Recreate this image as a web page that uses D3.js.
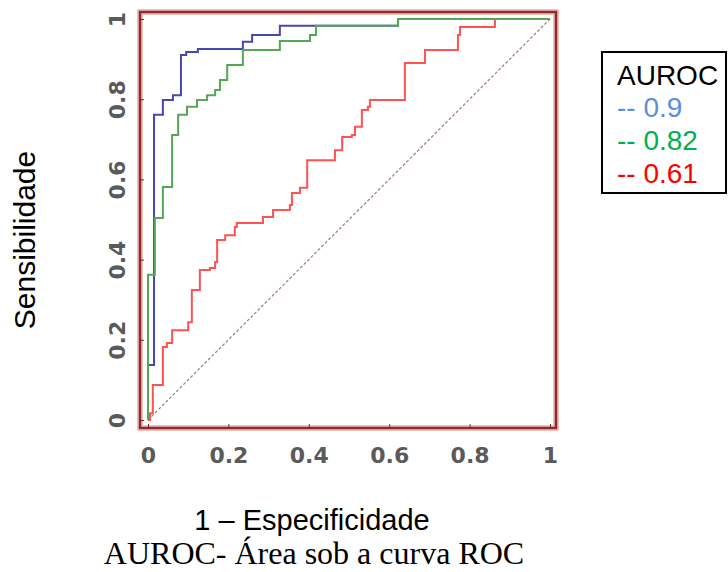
<!DOCTYPE html>
<html>
<head>
<meta charset="utf-8">
<script src="https://cdn.jsdelivr.net/npm/d3@7"></script>
<style>
  body { margin: 0; background: #fff; }
  svg { display: block; }
</style>
</head>
<body>
<div id="chart-area"></div>
<script>
const WIDTH = 728;
const HEIGHT = 572;

// ROC curves, points taken at each step (fpr, tpr)
const blueFpr = [0, 0, 0.015, 0.037, 0.062, 0.082, 0.095, 0.124, 0.236, 0.259, 0.328, 0.622, 1];
const blueTpr = [0, 0.137, 0.761, 0.798, 0.810, 0.910, 0.918, 0.925, 0.943, 0.960, 0.983, 1, 1];

const greenFpr = [0, 0, 0.017, 0.037, 0.060, 0.075, 0.097, 0.122, 0.147, 0.167, 0.179, 0.197, 0.236, 0.328, 0.403, 0.418, 0.622, 1];
const greenTpr = [0, 0.362, 0.504, 0.581, 0.711, 0.761, 0.781, 0.798, 0.810, 0.823, 0.848, 0.885, 0.923, 0.945, 0.960, 0.983, 1, 1];

const redFpr = [0, 0.005, 0.012, 0.037, 0.047, 0.060, 0.100, 0.109, 0.129, 0.154, 0.167, 0.172, 0.192, 0.216, 0.221, 0.286, 0.311, 0.353, 0.358, 0.378, 0.396, 0.465, 0.483, 0.507, 0.515, 0.532, 0.547, 0.552, 0.639, 0.689, 0.771, 0.776, 0.863, 1];
const redTpr = [0, 0.017, 0.087, 0.182, 0.192, 0.224, 0.244, 0.324, 0.374, 0.379, 0.394, 0.449, 0.461, 0.481, 0.491, 0.506, 0.524, 0.536, 0.566, 0.579, 0.648, 0.673, 0.706, 0.711, 0.731, 0.773, 0.781, 0.798, 0.890, 0.923, 0.960, 0.980, 1, 1];

const xTicks = [0, 0.2, 0.4, 0.6, 0.8, 1];
const yTicks = [0, 0.2, 0.4, 0.6, 0.8, 1];
const tickLabels = ['0', '0.2', '0.4', '0.6', '0.8', '1'];

const legendTitle = 'AUROC';
const legendLabels = ['-- 0.9', '-- 0.82', '-- 0.61'];
const legendColors = ['#5b8fd8', '#00b050', '#ff0000'];

main();

function main() {
  const svg = d3.select('#chart-area').append('svg')
    .attr('width', WIDTH)
    .attr('height', HEIGHT);
  svg.append('rect').attr('width', WIDTH).attr('height', HEIGHT).attr('fill', '#fff');
  showGraph(svg);
  showLegend(svg);
}

function showGraph(svg) {
  const x = d3.scaleLinear().domain([0, 1]).range([148, 550]);
  const y = d3.scaleLinear().domain([0, 1]).range([420, 19]);
  const frame = {left: 140, top: 12, right: 556, bottom: 428};

  // chance line
  svg.append('line')
    .attr('x1', x(0)).attr('y1', y(0))
    .attr('x2', x(1)).attr('y2', y(1))
    .attr('stroke', '#a8787f')
    .attr('stroke-width', 1.2)
    .attr('stroke-dasharray', '3,2');

  const line = d3.line()
    .x(d => x(d[0]))
    .y(d => y(d[1]))
    .curve(d3.curveStepAfter);

  // green sits on top of blue in the original
  const curves = [
    {fpr: redFpr, tpr: redTpr, color: '#ff5252'},
    {fpr: blueFpr, tpr: blueTpr, color: '#4848aa'},
    {fpr: greenFpr, tpr: greenTpr, color: '#55a655'},
  ];
  curves.forEach(c => {
    svg.append('path')
      .datum(d3.zip(c.fpr, c.tpr))
      .attr('fill', 'none')
      .attr('stroke', c.color)
      .attr('stroke-width', 2)
      .attr('d', line);
  });

  // frame with soft halo
  svg.append('rect')
    .attr('x', frame.left).attr('y', frame.top)
    .attr('width', frame.right - frame.left)
    .attr('height', frame.bottom - frame.top)
    .attr('fill', 'none')
    .attr('stroke', '#eec0c0')
    .attr('stroke-width', 6);
  svg.append('rect')
    .attr('x', frame.left).attr('y', frame.top)
    .attr('width', frame.right - frame.left)
    .attr('height', frame.bottom - frame.top)
    .attr('fill', 'none')
    .attr('stroke', '#8e2c2c')
    .attr('stroke-width', 2.5);

  const axisBottomCall = d3.axisBottom(x)
    .tickValues(xTicks)
    .tickFormat((d, i) => tickLabels[i])
    .tickSize(-4)
    .tickPadding(19);
  const gx = svg.append('g')
    .attr('class', 'x-scale')
    .attr('transform', `translate(0, ${ frame.bottom })`)
    .call(axisBottomCall);

  const axisLeftCall = d3.axisLeft(y)
    .tickValues(yTicks)
    .tickFormat((d, i) => tickLabels[i])
    .tickSize(-4);
  const gy = svg.append('g')
    .attr('class', 'y-scale')
    .attr('transform', `translate(${ frame.left }, 0)`)
    .call(axisLeftCall);
  gy.selectAll('text')
    .attr('x', null)
    .attr('dy', null)
    .attr('text-anchor', 'middle')
    .attr('transform', 'translate(-15, 0) rotate(-90)');

  [gx, gy].forEach(g => {
    g.select('.domain').remove();
    g.selectAll('line').attr('stroke', '#7a2a2a');
    g.selectAll('text')
      .attr('fill', '#5a5a5a')
      .style('font-family', 'DejaVu Sans')
      .style('font-weight', 'bold')
      .style('font-size', '22px');
  });

  svg.append('text')
    .attr('transform', 'translate(35, 240) rotate(-90)')
    .attr('text-anchor', 'middle')
    .style('font-family', 'Liberation Sans, Arial, sans-serif')
    .style('font-size', '30px')
    .text('Sensibilidade');

  svg.append('text')
    .attr('x', 312)
    .attr('y', 530)
    .attr('text-anchor', 'middle')
    .style('font-family', 'Liberation Sans, Arial, sans-serif')
    .style('font-size', '29px')
    .text('1 – Especificidade');

  svg.append('text')
    .attr('x', 314)
    .attr('y', 564)
    .attr('text-anchor', 'middle')
    .style('font-family', 'Liberation Serif, Times New Roman, serif')
    .style('font-size', '32px')
    .text('AUROC- Área sob a curva ROC');
}

function showLegend(svg) {
  const g = svg.append('g');
  g.append('rect')
    .attr('x', 602).attr('y', 52)
    .attr('width', 124).attr('height', 141)
    .attr('fill', '#fff')
    .attr('stroke', '#000')
    .attr('stroke-width', 2);
  g.append('text')
    .attr('x', 617).attr('y', 85)
    .style('font-family', 'Liberation Sans, Arial, sans-serif')
    .style('font-size', '28px')
    .text(legendTitle);
  g.selectAll('.entry')
    .data(legendLabels)
    .enter()
    .append('text')
    .attr('class', 'entry')
    .attr('x', 617)
    .attr('y', (d, i) => 117 + i * 33)
    .attr('fill', (d, i) => legendColors[i])
    .style('font-family', 'Liberation Sans, Arial, sans-serif')
    .style('font-size', '28px')
    .text(d => d);
}
</script>
</body>
</html>
